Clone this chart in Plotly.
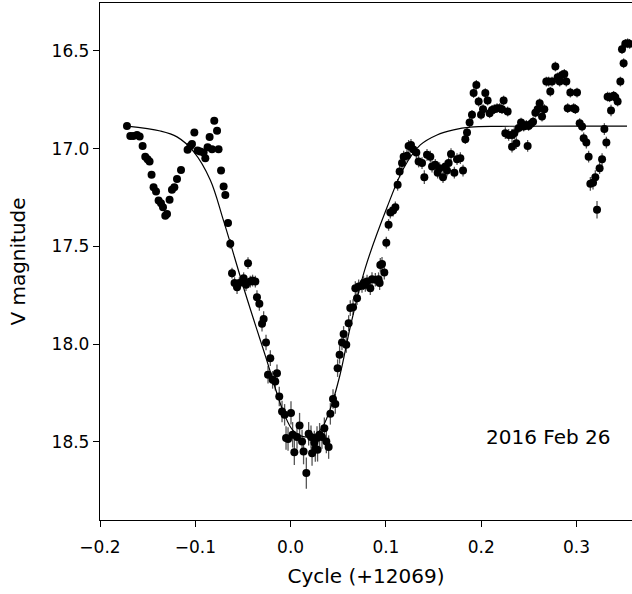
import plotly.graph_objects as go

# Observed photometry (cycle offset, V magnitude, error)
cycle = [
    -0.1717, -0.1682, -0.1651, -0.1612, -0.1584, -0.1553, -0.1525, -0.1501, -0.1480, -0.1459,
    -0.1438, -0.1412, -0.1385, -0.1360, -0.1339, -0.1315, -0.1297, -0.1270, -0.1245, -0.1220,
    -0.1192, -0.1150, -0.1081, -0.1052, -0.1035, -0.1010, -0.0976, -0.0948, -0.0913, -0.0895,
    -0.0871, -0.0850, -0.0825, -0.0801, -0.0772, -0.0756, -0.0730, -0.0703, -0.0685, -0.0657,
    -0.0633, -0.0615, -0.0588, -0.0562, -0.0538, -0.0493, -0.0468, -0.0447, -0.0423, -0.0399,
    -0.0370, -0.0353, -0.0328, -0.0300, -0.0283, -0.0258, -0.0237, -0.0213, -0.0189, -0.0161,
    -0.0143, -0.0119, -0.0090, -0.0063, -0.0048, -0.0027, 0.0004, 0.0021, 0.0039, 0.0067,
    0.0094, 0.0120, 0.0136, 0.0165, 0.0189, 0.0214, 0.0225, 0.0249, 0.0259, 0.0277,
    0.0283, 0.0304, 0.0329, 0.0354, 0.0375, 0.0399, 0.0417, 0.0445, 0.0469, 0.0493,
    0.0514, 0.0539, 0.0556, 0.0584, 0.0609, 0.0626, 0.0655, 0.0679, 0.0697, 0.0714,
    0.0749, 0.0766, 0.0784, 0.0802, 0.0836, 0.0854, 0.0889, 0.0923, 0.0934, 0.0941,
    0.0959, 0.0983, 0.1004, 0.1028, 0.1046, 0.1075, 0.1099, 0.1123, 0.1144, 0.1169,
    0.1186, 0.1221, 0.1238, 0.1263, 0.1284, 0.1319, 0.1343, 0.1379, 0.1403, 0.1431,
    0.1466, 0.1484, 0.1518, 0.1543, 0.1563, 0.1599, 0.1623, 0.1641, 0.1658, 0.1683,
    0.1718, 0.1746, 0.1781, 0.1809, 0.1833, 0.1851, 0.1878, 0.1903, 0.1920, 0.1949,
    0.1973, 0.1998, 0.2019, 0.2043, 0.2067, 0.2088, 0.2113, 0.2137, 0.2166, 0.2193,
    0.2218, 0.2235, 0.2253, 0.2277, 0.2288, 0.2323, 0.2323, 0.2347, 0.2368, 0.2393,
    0.2418, 0.2445, 0.2473, 0.2487, 0.2497, 0.2523, 0.2544, 0.2568, 0.2592, 0.2613,
    0.2638, 0.2662, 0.2683, 0.2707, 0.2725, 0.2743, 0.2778, 0.2802, 0.2823, 0.2848,
    0.2872, 0.2893, 0.2907, 0.2935, 0.2970, 0.2988, 0.3005, 0.3033, 0.3058, 0.3075,
    0.3103, 0.3127, 0.3145, 0.3173, 0.3197, 0.3215, 0.3242, 0.3268, 0.3292, 0.3313,
    0.3326, 0.3347, 0.3362, 0.3389, 0.3407, 0.3431, 0.3460, 0.3477, 0.3494, 0.3512,
    0.3536, 0.3557,
]
vmag = [
    16.884, 16.935, 16.935, 16.930, 16.938, 16.986, 17.041, 17.054, 17.066, 17.134,
    17.197, 17.220, 17.266, 17.279, 17.300, 17.344, 17.334, 17.262, 17.211, 17.197,
    17.156, 17.109, 17.006, 16.986, 16.976, 16.918, 17.010, 17.015, 17.020, 17.049,
    16.993, 16.941, 17.003, 16.857, 16.908, 17.003, 17.112, 17.194, 17.237, 17.381,
    17.487, 17.637, 17.688, 17.709, 17.688, 17.663, 17.697, 17.586, 17.680, 17.675,
    17.680, 17.760, 17.794, 17.896, 17.872, 17.992, 18.157, 18.072, 18.183, 18.192,
    18.149, 18.268, 18.345, 18.362, 18.481, 18.486, 18.352, 18.464, 18.553, 18.476,
    18.417, 18.498, 18.550, 18.660, 18.459, 18.476, 18.558, 18.504, 18.537, 18.481,
    18.541, 18.464, 18.476, 18.430, 18.498, 18.527, 18.357, 18.281, 18.306, 18.123,
    18.055, 17.992, 17.948, 18.004, 17.893, 17.816, 17.811, 17.714, 17.765, 17.705,
    17.702, 17.688, 17.697, 17.680, 17.714, 17.668, 17.671, 17.668, 17.688, 17.595,
    17.590, 17.634, 17.481, 17.390, 17.327, 17.317, 17.300, 17.185, 17.117, 17.074,
    17.041, 17.037, 16.986, 16.981, 17.003, 17.020, 17.066, 17.074, 17.146, 17.032,
    17.041, 17.092, 17.083, 17.123, 17.100, 17.146, 17.092, 17.112, 17.074, 17.028,
    17.123, 17.054, 17.049, 17.112, 16.952, 16.918, 16.867, 16.827, 16.716, 16.674,
    16.759, 16.827, 16.798, 16.716, 16.754, 16.819, 16.802, 16.798, 16.793, 16.793,
    16.798, 16.754, 16.921, 16.810, 16.930, 16.930, 16.990, 16.921, 16.972, 16.895,
    16.867, 16.887, 16.879, 16.986, 16.884, 16.873, 16.862, 16.816, 16.798, 16.768,
    16.836, 16.798, 16.657, 16.657, 16.708, 16.657, 16.580, 16.635, 16.657, 16.623,
    16.618, 16.657, 16.793, 16.713, 16.793, 16.798, 16.713, 16.870, 16.887, 16.947,
    16.969, 17.041, 17.180, 17.174, 17.146, 17.313, 17.100, 17.054, 16.900, 16.969,
    16.734, 16.737, 16.805, 16.730, 16.737, 16.759, 16.657, 16.491, 16.563, 16.464,
    16.461, 16.464,
]
verr = [
    0.010, 0.010, 0.010, 0.010, 0.010, 0.012, 0.012, 0.012, 0.012, 0.012,
    0.012, 0.012, 0.012, 0.012, 0.012, 0.012, 0.012, 0.012, 0.012, 0.012,
    0.012, 0.012, 0.014, 0.014, 0.014, 0.014, 0.014, 0.014, 0.014, 0.014,
    0.014, 0.014, 0.014, 0.014, 0.014, 0.015, 0.015, 0.016, 0.016, 0.020,
    0.025, 0.028, 0.030, 0.035, 0.030, 0.030, 0.032, 0.030, 0.030, 0.030,
    0.030, 0.035, 0.035, 0.040, 0.040, 0.040, 0.045, 0.040, 0.045, 0.045,
    0.045, 0.050, 0.055, 0.055, 0.060, 0.060, 0.060, 0.065, 0.065, 0.060,
    0.065, 0.060, 0.065, 0.080, 0.060, 0.060, 0.065, 0.060, 0.065, 0.060,
    0.060, 0.060, 0.060, 0.055, 0.060, 0.060, 0.055, 0.050, 0.050, 0.045,
    0.045, 0.040, 0.040, 0.040, 0.040, 0.040, 0.040, 0.035, 0.035, 0.035,
    0.035, 0.035, 0.035, 0.035, 0.035, 0.035, 0.035, 0.035, 0.035, 0.035,
    0.035, 0.035, 0.030, 0.030, 0.030, 0.030, 0.030, 0.030, 0.030, 0.030,
    0.030, 0.030, 0.030, 0.030, 0.030, 0.030, 0.030, 0.030, 0.035, 0.030,
    0.030, 0.030, 0.030, 0.030, 0.030, 0.030, 0.030, 0.030, 0.030, 0.030,
    0.030, 0.030, 0.030, 0.030, 0.025, 0.025, 0.025, 0.025, 0.025, 0.025,
    0.025, 0.025, 0.025, 0.025, 0.025, 0.025, 0.025, 0.025, 0.025, 0.025,
    0.025, 0.025, 0.030, 0.025, 0.030, 0.030, 0.030, 0.030, 0.030, 0.025,
    0.025, 0.025, 0.025, 0.030, 0.025, 0.025, 0.025, 0.025, 0.025, 0.025,
    0.025, 0.025, 0.025, 0.025, 0.025, 0.025, 0.025, 0.025, 0.025, 0.025,
    0.025, 0.025, 0.025, 0.025, 0.025, 0.025, 0.025, 0.025, 0.025, 0.030,
    0.030, 0.030, 0.035, 0.035, 0.035, 0.045, 0.030, 0.030, 0.030, 0.030,
    0.025, 0.025, 0.030, 0.025, 0.025, 0.025, 0.025, 0.025, 0.025, 0.025,
    0.025, 0.025,
]

# Model light curve
model_cycle = [-0.1717, -0.1367, -0.1192, -0.1018, -0.0843, -0.0703, -0.0475, -0.0265,
               -0.0073, 0.0031, 0.0172, 0.0312, 0.0417, 0.0522, 0.0627, 0.0784,
               0.1012, 0.1186, 0.1361, 0.1536, 0.1710, 0.1886, 0.2200, 0.3530]
model_vmag = [16.885, 16.910, 16.940, 17.015, 17.160, 17.370, 17.740, 18.060,
              18.350, 18.445, 18.476, 18.440, 18.330, 18.150, 17.910, 17.610,
              17.300, 17.100, 16.981, 16.930, 16.904, 16.890, 16.886, 16.885]

x_ticks = [-0.2, -0.1, 0.0, 0.1, 0.2, 0.3]
y_ticks = [16.5, 17.0, 17.5, 18.0, 18.5]
label = "2016 Feb 26"

fig = go.Figure()
fig.add_trace(go.Scatter(
    x=cycle, y=vmag, mode="markers",
    marker=dict(color="black", size=8),
    error_y=dict(type="data", array=verr, visible=True, color="#555555",
                 thickness=1.3, width=0),
    showlegend=False,
))
fig.add_trace(go.Scatter(
    x=model_cycle, y=model_vmag, mode="lines",
    line=dict(color="black", width=1.2, shape="spline", smoothing=1.0),
    showlegend=False,
))

font_family = "DejaVu Sans"
fig.add_annotation(
    x=0.2704, y=18.474, xref="x", yref="y", text=label, showarrow=False,
    font=dict(family=font_family, size=20, color="black"),
)

fig.update_layout(
    width=632, height=594,
    margin=dict(l=100, r=0, t=3, b=74),
    plot_bgcolor="white", paper_bgcolor="white",
    font=dict(family=font_family, size=18, color="black"),
)
fig.update_xaxes(
    range=[-0.2, 0.3582], tickvals=x_ticks,
    ticktext=[("\u2212" if v < 0 else "") + f"{abs(v):.1f}" for v in x_ticks],
    ticks="outside", ticklen=6, tickwidth=1.3, tickcolor="black",
    showline=True, linecolor="black", linewidth=1.3, mirror=True,
    showgrid=False, zeroline=False, ticklabelstandoff=5,
    title=dict(text="Cycle (+12069)", font=dict(size=20), standoff=13),
    tickfont=dict(size=17),
)
fig.update_yaxes(
    range=[18.9, 16.255], tickvals=y_ticks,
    ticktext=[f"{v:.1f}" for v in y_ticks],
    ticks="outside", ticklen=6, tickwidth=1.3, tickcolor="black",
    showline=True, linecolor="black", linewidth=1.3, mirror=False,
    showgrid=False, zeroline=False,
    title=dict(text="V magnitude", font=dict(size=20), standoff=20),
    tickfont=dict(size=17),
)

fig.write_html("out.html", config={"displayModeBar": False},
               post_script="document.body.style.margin='0';")
